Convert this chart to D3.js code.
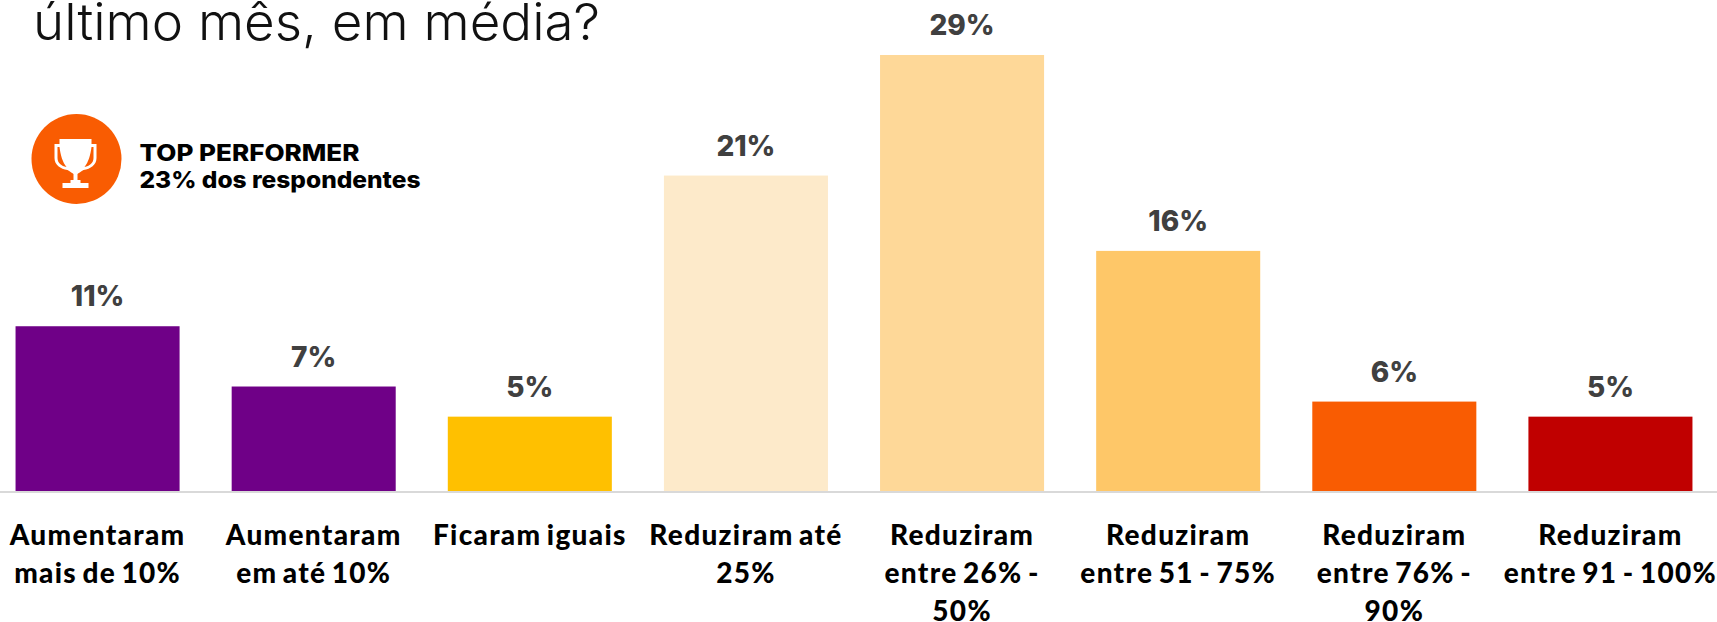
<!DOCTYPE html>
<html><head><meta charset="utf-8">
<script src="https://cdn.jsdelivr.net/npm/d3@7/dist/d3.min.js"></script>
<style>html,body{margin:0;padding:0;background:#fff;overflow:hidden}svg{display:block}</style>
</head><body><svg id="c" width="1717" height="622"></svg>
<script>
const categories=["Aumentaram mais de 10%","Aumentaram em até 10%","Ficaram iguais","Reduziram até 25%","Reduziram entre 26% - 50%","Reduziram entre 51 - 75%","Reduziram entre 76% - 90%","Reduziram entre 91 - 100%"];
const tickLines=[["Aumentaram","mais de 10%"],["Aumentaram","em até 10%"],["Ficaram iguais"],["Reduziram até","25%"],["Reduziram","entre 26% -","50%"],["Reduziram","entre 51 - 75%"],["Reduziram","entre 76% -","90%"],["Reduziram","entre 91 - 100%"]];
const values=[11,7,5,21,29,16,6,5];
const colors=["#6f0087","#6f0087","#ffc000","#fdeaca","#fed898","#fec768","#f95c02","#c00000"];
const titleText="último mês, em média?";
const noteLines=["TOP PERFORMER","23% dos respondentes"];

const svg=d3.select("#c");
const baseY=492;
const x=d3.scaleBand().domain(categories).range([-10.5,1718.5]).paddingInner(.241).paddingOuter(.1205);
const y=d3.scaleLinear().domain([0,29]).range([baseY,55]);

svg.append("text").attr("x",33).attr("y",40).attr("font-family","Inter").attr("font-weight",300)
  .attr("font-size",51).attr("fill","#111").attr("textLength",567).attr("lengthAdjust","spacingAndGlyphs").text(titleText);

svg.selectAll("rect.bar").data(values).join("rect").attr("class","bar")
  .attr("x",(d,i)=>x(categories[i])).attr("width",x.bandwidth())
  .attr("y",d=>y(d)).attr("height",d=>baseY-y(d)).attr("fill",(d,i)=>colors[i]);

const axis=svg.append("g").attr("transform",`translate(0,${baseY})`).call(d3.axisBottom(x).tickSize(0).tickFormat(""));
axis.select(".domain").attr("stroke","#d9d9d9").attr("stroke-width",2).attr("d","M0,0H1717");

svg.selectAll("text.val").data(values).join("text").attr("class","val")
  .attr("x",(d,i)=>x(categories[i])+x.bandwidth()/2).attr("y",d=>y(d)-20)
  .attr("text-anchor","middle").attr("font-family","Inter").attr("font-weight",800)
  .attr("font-size",28).attr("fill","#404040").text(d=>d+"%");

const lab=svg.selectAll("g.lab").data(tickLines).join("g").attr("class","lab")
  .attr("transform",(d,i)=>`translate(${x(categories[i])+x.bandwidth()/2},0)`);
lab.selectAll("text").data(d=>d).join("text").attr("text-anchor","middle")
  .attr("y",(d,i)=>545+i*38).attr("font-family","Lato").attr("font-weight",900)
  .attr("font-size",28).attr("letter-spacing",1.3).attr("word-spacing",-2.5).attr("fill","#000").text(d=>d);

svg.append("circle").attr("cx",76.5).attr("cy",159).attr("r",45).attr("fill","#f95c02");
const g=svg.append("g").attr("transform","translate(75.5,163)");
g.append("path").attr("fill","#fff").attr("d","M-16,-24H16V-19H21V-5C21,2 15,6 8,7C5,9 3,10 2,11V17H5V20H13V25H-13V20H-5V17H-2V11C-3,10 -5,9 -8,7C-15,6 -21,2 -21,-5V-19H-16Z");
g.append("path").attr("fill","#f95c02").attr("d","M-18,-16H-16C-15,-8 -13,-1 -9,4C-14,3 -18,0 -18,-5Z M18,-16H16C15,-8 13,-1 9,4C14,3 18,0 18,-5Z");

svg.selectAll("text.note").data(noteLines).join("text").attr("class","note")
  .attr("x",139.5).attr("y",(d,i)=>161+i*27).attr("font-family","Inter").attr("font-weight",800)
  .attr("font-size",23).attr("fill","#000").attr("textLength",(d,i)=>[220,281][i]).attr("lengthAdjust","spacingAndGlyphs").text(d=>d);
</script></body></html>
